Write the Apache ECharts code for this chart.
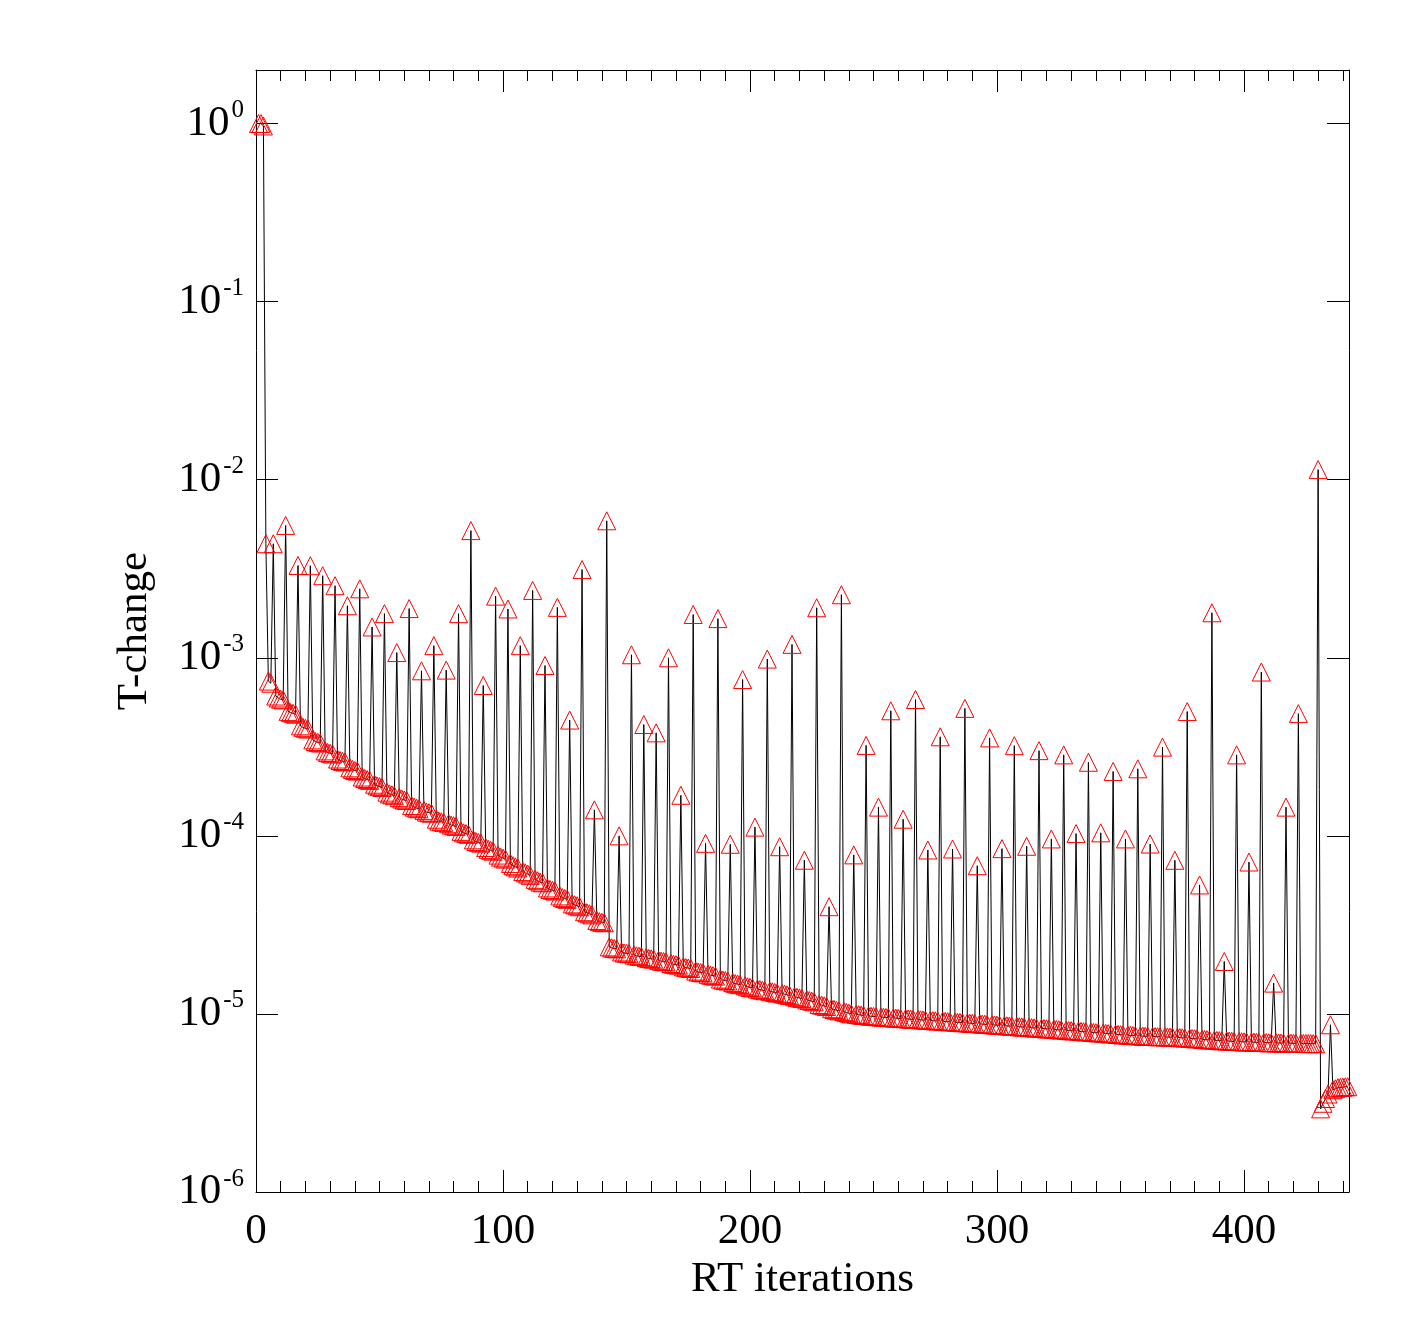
<!DOCTYPE html>
<html>
<head>
<meta charset="utf-8">
<title>T-change vs RT iterations</title>
<script src="https://cdn.jsdelivr.net/npm/echarts@6.0.0/dist/echarts.min.js"></script>
<style>
  html, body { margin: 0; padding: 0; background: #fff; }
  #chart { width: 1417px; height: 1337px; }
</style>
</head>
<body>
<div id="chart"></div>
<script>
// T-change per RT iteration (iteration = index + 1)
var tChange = [
  1.0, 1.0, 0.97, 4.37e-3, 7.4e-4, 7.2e-4,
  4.37e-3, 6.1e-4, 5.95e-4, 5.85e-4, 5.8e-4,
  5.54e-3, 5.0e-4, 4.92e-4, 4.88e-4, 4.82e-4,
  3.30e-3, 4.15e-4, 4.07e-4, 4.02e-4, 3.98e-4,
  3.29e-3, 3.46e-4, 3.39e-4, 3.35e-4, 3.32e-4,
  2.89e-3, 3.0e-4, 2.94e-4, 2.91e-4, 2.88e-4,
  2.54e-3, 2.7e-4, 2.65e-4, 2.62e-4, 2.6e-4,
  1.96e-3, 2.41e-4, 2.36e-4, 2.33e-4, 2.31e-4,
  2.44e-3, 2.14e-4, 2.1e-4, 2.07e-4, 2.05e-4,
  1.49e-3, 1.95e-4, 1.91e-4, 1.89e-4, 1.87e-4,
  1.77e-3, 1.76e-4, 1.72e-4, 1.7e-4, 1.68e-4,
  1.07e-3, 1.64e-4, 1.61e-4, 1.59e-4, 1.58e-4,
  1.89e-3, 1.48e-4, 1.45e-4, 1.43e-4, 1.42e-4,
  8.45e-4, 1.39e-4, 1.36e-4, 1.35e-4, 1.34e-4,
  1.17e-3, 1.24e-4, 1.21e-4, 1.2e-4, 1.19e-4,
  8.53e-4, 1.17e-4, 1.15e-4, 1.14e-4, 1.13e-4,
  1.77e-3, 1.06e-4, 1.04e-4, 1.03e-4, 1.02e-4,
  5.18e-3, 9.5e-5, 9.3e-5, 9.2e-5, 9.1e-5,
  6.99e-4, 8.6e-5, 8.4e-5, 8.3e-5, 8.2e-5,
  2.22e-3, 7.8e-5, 7.6e-5, 7.5e-5, 7.4e-5,
  1.88e-3, 7.0e-5, 6.8e-5, 6.7e-5, 6.6e-5,
  1.17e-3, 6.3e-5, 6.2e-5, 6.1e-5, 6.0e-5,
  2.39e-3, 5.7e-5, 5.6e-5, 5.5e-5, 5.45e-5,
  9.05e-4, 5.1e-5, 5.0e-5, 4.95e-5, 4.9e-5,
  1.92e-3, 4.6e-5, 4.5e-5, 4.45e-5, 4.4e-5,
  4.47e-4, 4.15e-5, 4.1e-5, 4.05e-5, 4.0e-5,
  3.13e-3, 3.75e-5, 3.7e-5, 3.65e-5, 3.6e-5,
  1.40e-4, 3.35e-5, 3.3e-5, 3.27e-5, 3.25e-5,
  5.88e-3, 2.38e-5, 2.35e-5, 2.33e-5, 2.32e-5,
  1.00e-4, 2.23e-5, 2.2e-5, 2.19e-5, 2.18e-5,
  1.04e-3, 2.14e-5, 2.12e-5, 2.11e-5, 2.1e-5,
  4.22e-4, 2.07e-5, 2.05e-5, 2.04e-5, 2.03e-5,
  3.79e-4, 2.0e-5, 1.98e-5, 1.97e-5, 1.96e-5,
  1.00e-3, 1.92e-5, 1.9e-5, 1.89e-5, 1.88e-5,
  1.69e-4, 1.84e-5, 1.82e-5, 1.81e-5, 1.8e-5,
  1.75e-3, 1.74e-5, 1.72e-5, 1.71e-5, 1.7e-5,
  9.08e-5, 1.67e-5, 1.65e-5, 1.64e-5, 1.63e-5,
  1.66e-3, 1.57e-5, 1.55e-5, 1.54e-5, 1.53e-5,
  8.97e-5, 1.5e-5, 1.48e-5, 1.47e-5, 1.46e-5,
  7.55e-4, 1.44e-5, 1.42e-5, 1.41e-5, 1.4e-5,
  1.12e-4, 1.38e-5, 1.37e-5, 1.36e-5, 1.35e-5,
  9.84e-4, 1.34e-5, 1.33e-5, 1.32e-5, 1.31e-5,
  8.69e-5, 1.3e-5, 1.29e-5, 1.28e-5, 1.27e-5,
  1.19e-3, 1.25e-5, 1.24e-5, 1.23e-5, 1.22e-5,
  7.30e-5, 1.2e-5, 1.19e-5, 1.18e-5, 1.17e-5,
  1.91e-3, 1.13e-5, 1.12e-5, 1.11e-5, 1.1e-5,
  4.00e-5, 1.07e-5, 1.06e-5, 1.05e-5, 1.04e-5,
  2.26e-3, 1.03e-5, 1.02e-5, 1.01e-5, 1.0e-5,
  7.82e-5, 9.95e-6, 9.9e-6, 9.85e-6, 9.8e-6,
  3.22e-4, 9.75e-6, 9.7e-6, 9.68e-6, 9.65e-6,
  1.45e-4, 9.6e-6, 9.58e-6, 9.55e-6, 9.52e-6,
  5.04e-4, 9.5e-6, 9.47e-6, 9.45e-6, 9.42e-6,
  1.24e-4, 9.4e-6, 9.37e-6, 9.35e-6, 9.32e-6,
  5.83e-4, 9.3e-6, 9.27e-6, 9.25e-6, 9.22e-6,
  8.33e-5, 9.2e-6, 9.17e-6, 9.15e-6, 9.12e-6,
  3.60e-4, 9.1e-6, 9.07e-6, 9.05e-6, 9.02e-6,
  8.44e-5, 9.0e-6, 8.97e-6, 8.95e-6, 8.92e-6,
  5.20e-4, 8.9e-6, 8.87e-6, 8.85e-6, 8.82e-6,
  6.80e-5, 8.8e-6, 8.77e-6, 8.75e-6, 8.72e-6,
  3.55e-4, 8.7e-6, 8.67e-6, 8.65e-6, 8.62e-6,
  8.48e-5, 8.6e-6, 8.57e-6, 8.55e-6, 8.52e-6,
  3.21e-4, 8.5e-6, 8.47e-6, 8.45e-6, 8.42e-6,
  8.74e-5, 8.4e-6, 8.37e-6, 8.35e-6, 8.32e-6,
  3.01e-4, 8.3e-6, 8.27e-6, 8.25e-6, 8.22e-6,
  9.61e-5, 8.2e-6, 8.17e-6, 8.15e-6, 8.12e-6,
  2.85e-4, 8.1e-6, 8.07e-6, 8.05e-6, 8.02e-6,
  1.03e-4, 8.0e-6, 7.97e-6, 7.95e-6, 7.92e-6,
  2.59e-4, 7.9e-6, 7.87e-6, 7.85e-6, 7.82e-6,
  1.04e-4, 7.8e-6, 7.77e-6, 7.75e-6, 7.72e-6,
  2.30e-4, 7.7e-6, 7.67e-6, 7.65e-6, 7.62e-6,
  9.61e-5, 7.6e-6, 7.58e-6, 7.56e-6, 7.54e-6,
  2.38e-4, 7.52e-6, 7.5e-6, 7.49e-6, 7.48e-6,
  9.00e-5, 7.47e-6, 7.46e-6, 7.45e-6, 7.44e-6,
  3.15e-4, 7.43e-6, 7.42e-6, 7.41e-6, 7.4e-6,
  7.29e-5, 7.38e-6, 7.36e-6, 7.34e-6, 7.32e-6,
  4.99e-4, 7.3e-6, 7.28e-6, 7.26e-6, 7.24e-6,
  5.30e-5, 7.2e-6, 7.18e-6, 7.16e-6, 7.14e-6,
  1.79e-3, 7.12e-6, 7.1e-6, 7.08e-6, 7.06e-6,
  1.97e-5, 7.05e-6, 7.04e-6, 7.02e-6, 7.0e-6,
  2.85e-4, 6.99e-6, 6.98e-6, 6.97e-6, 6.96e-6,
  7.13e-5, 6.95e-6, 6.94e-6, 6.93e-6, 6.92e-6,
  8.32e-4, 6.91e-6, 6.9e-6, 6.89e-6, 6.88e-6,
  1.49e-5, 6.88e-6, 6.87e-6, 6.86e-6, 6.86e-6,
  1.45e-4, 6.85e-6, 6.85e-6, 6.84e-6, 6.84e-6,
  4.86e-4, 6.83e-6, 6.83e-6, 6.82e-6, 6.82e-6, 6.81e-6, 6.81e-6, 6.8e-6,
  1.14e-2, 2.93e-6, 3.15e-6, 3.35e-6, 3.55e-6,
  8.69e-6, 3.75e-6, 3.8e-6, 3.85e-6, 3.87e-6, 3.88e-6, 3.9e-6, 3.9e-6
];

var xTicks = [0, 100, 200, 300, 400];
var xRange = [0, 442.5];
var yRange = [1e-6, 2];

var FONT = '"Liberation Serif", "DejaVu Serif", serif';

var points = tChange.map(function (v, i) { return [i + 1, v]; });

function expLabel(v) {
  var e = Math.round(Math.log(v) / Math.LN10);
  return '{m|10}{s|' + e + '}';
}

var chart = echarts.init(document.getElementById('chart'), null, { renderer: 'canvas' });

var axisLine = { show: true, onZero: false, lineStyle: { color: '#000', width: 1 } };

chart.setOption({
  animation: false,
  backgroundColor: '#fff',
  grid: { left: 256, right: 68, top: 70, bottom: 145 },
  xAxis: [{
    type: 'value',
    position: 'bottom',
    min: xRange[0], max: xRange[1], interval: xTicks[1] - xTicks[0],
    name: 'RT iterations',
    nameLocation: 'middle',
    nameGap: 66,
    nameTextStyle: { fontFamily: FONT, fontSize: 43, color: '#000' },
    axisLine: axisLine,
    axisTick: { inside: true, length: 22, lineStyle: { color: '#000' } },
    minorTick: { show: true, splitNumber: 10, length: 11, lineStyle: { color: '#000' } },
    splitLine: { show: false },
    axisLabel: { fontFamily: FONT, fontSize: 43, color: '#000', margin: 18, showMaxLabel: false }
  }, {
    type: 'value',
    position: 'top',
    min: xRange[0], max: xRange[1], interval: xTicks[1] - xTicks[0],
    axisLine: axisLine,
    axisTick: { inside: true, length: 22, lineStyle: { color: '#000' } },
    minorTick: { show: true, splitNumber: 10, length: 11, lineStyle: { color: '#000' } },
    splitLine: { show: false },
    axisLabel: { show: false }
  }],
  yAxis: [{
    type: 'log',
    position: 'left',
    min: yRange[0], max: yRange[1],
    name: 'T-change',
    nameLocation: 'middle',
    nameRotate: 90,
    nameGap: 100,
    nameTextStyle: { fontFamily: FONT, fontSize: 43, color: '#000' },
    axisLine: axisLine,
    axisTick: { inside: true, length: 22, lineStyle: { color: '#000' } },
    splitLine: { show: false },
    axisLabel: {
      margin: 12,
      showMaxLabel: false,
      formatter: expLabel,
      rich: {
        m: { fontFamily: FONT, fontSize: 43, color: '#000', padding: [4, 0, 4, 0] },
        s: { fontFamily: FONT, fontSize: 25, color: '#000', verticalAlign: 'top', padding: [0, 0, 0, 2] }
      }
    }
  }, {
    type: 'log',
    position: 'right',
    min: yRange[0], max: yRange[1],
    axisLine: axisLine,
    axisTick: { inside: true, length: 22, lineStyle: { color: '#000' } },
    splitLine: { show: false },
    axisLabel: { show: false }
  }],
  series: [{
    type: 'line',
    xAxisIndex: 0,
    yAxisIndex: 0,
    data: points,
    symbol: 'triangle',
    symbolSize: 18,
    showSymbol: true,
    showAllSymbol: true,
    clip: true,
    lineStyle: { color: '#000', width: 1 },
    itemStyle: { color: 'rgba(255,255,255,0)', borderColor: '#ff0000', borderWidth: 1 },
    emphasis: { disabled: true },
    silent: true
  }]
});
</script>
</body>
</html>
